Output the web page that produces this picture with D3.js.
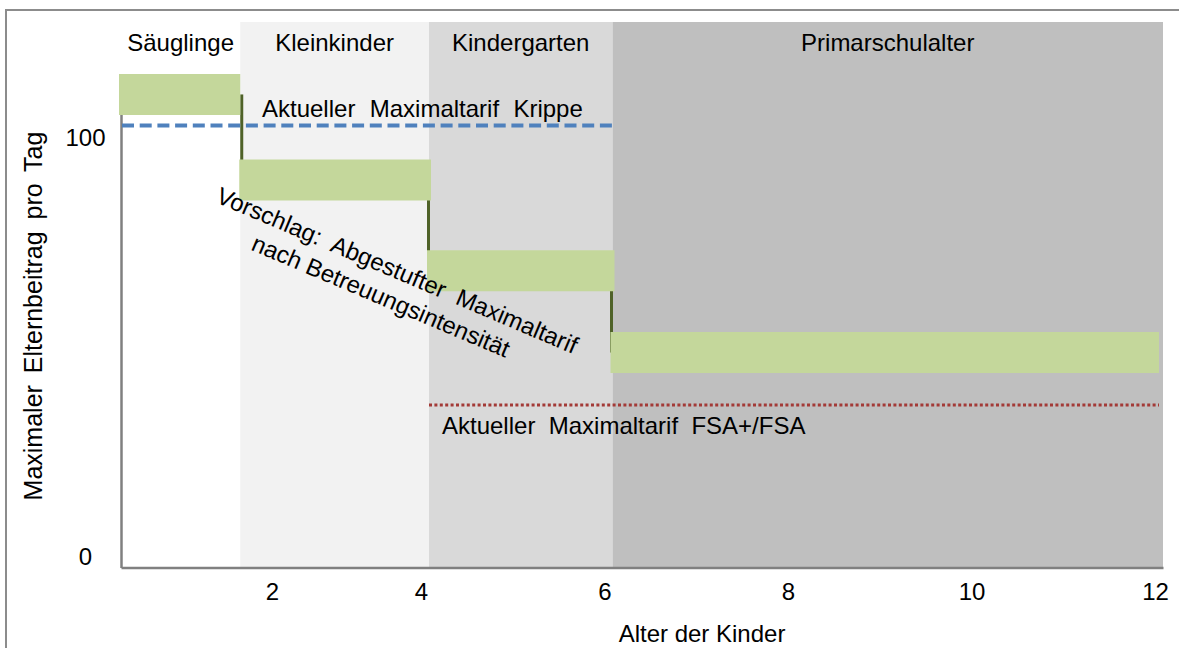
<!DOCTYPE html>
<html lang="de">
<head>
<meta charset="utf-8">
<script src="https://d3js.org/d3.v7.min.js"></script>
<style>
  html, body { margin: 0; padding: 0; background: #fff; overflow: hidden; }
  svg { display: block; }
  svg text { font-family: "Liberation Sans", Arial, sans-serif; fill: #000; white-space: pre; }
</style>
</head>
<body>
<div id="chart"></div>
<script>
// age groups (background bands)
const groupNames = ["Säuglinge", "Kleinkinder", "Kindergarten", "Primarschulalter"];
const groupFrom = [0, 1.5, 4, 6];
const groupTo = [1.5, 4, 6, 12];
const groupFill = ["#ffffff", "#f2f2f2", "#d9d9d9", "#bfbfbf"];

// proposed stepped maximum per group
const proposedMax = [112.9, 92.5, 70.8, 51.3];

// current maxima
const krippeMax = 105.5;
const krippeSpan = [0, 6];
const fsaMax = 38.8;
const fsaSpan = [4, 12];

const xTicks = [2, 4, 6, 8, 10, 12];
const yTicks = [0, 100];

const width = 1179, height = 648;
const bandTop = 22;

const svg = d3.select("#chart").append("svg")
    .attr("width", width)
    .attr("height", height);

// outer frame, runs past the right and bottom edge
svg.append("rect")
    .attr("x", 6).attr("y", 10)
    .attr("width", 1300).attr("height", 800)
    .attr("fill", "none")
    .attr("stroke", "#8c8c8c")
    .attr("stroke-width", 2);

// the age axis is not evenly spaced in the original
const x = d3.scaleLinear().domain([0, 2, 4, 12]).range([121, 280, 429, 1163]);
const y = d3.scaleLinear().domain([0, 110]).range([567.5, 106.6]);

// bands
svg.selectAll("rect.band")
    .data(groupNames)
    .join("rect")
    .attr("class", "band")
    .attr("x", (d, i) => x(groupFrom[i]))
    .attr("y", bandTop)
    .attr("width", (d, i) => x(groupTo[i]) - x(groupFrom[i]))
    .attr("height", y(0) - bandTop)
    .attr("fill", (d, i) => groupFill[i]);

svg.selectAll("text.band")
    .data(groupNames)
    .join("text")
    .attr("class", "band")
    .attr("x", (d, i) => (x(groupFrom[i]) + x(groupTo[i])) / 2)
    .attr("y", 51)
    .attr("text-anchor", "middle")
    .style("font-size", "24px")
    .text(d => d);

// axes
const xAxis = svg.append("g")
    .attr("transform", "translate(0," + y(0) + ")")
    .call(d3.axisBottom(x).tickValues(xTicks).tickSize(0).tickSizeOuter(0).tickFormat(d3.format("d")));
xAxis.select(".domain").attr("stroke", "#808080").attr("stroke-width", 2.5);
xAxis.selectAll("text")
    .attr("y", 32).attr("dy", 0).attr("dx", -8)
    .style("font-size", "24px")
    .style("font-family", "Liberation Sans, Arial, sans-serif");

const yAxis = svg.append("g")
    .attr("transform", "translate(" + x(0) + ",0)")
    .call(d3.axisLeft(y).tickValues(yTicks).tickSize(0).tickSizeOuter(0));
yAxis.select(".domain").attr("stroke", "#808080").attr("stroke-width", 2.5);
yAxis.selectAll("text")
    .attr("x", -35.5).attr("dy", "0.35em").attr("y", -11)
    .attr("text-anchor", "middle")
    .style("font-size", "24px")
    .style("font-family", "Liberation Sans, Arial, sans-serif");

svg.append("text")
    .attr("transform", "translate(42,316) rotate(-90)")
    .attr("text-anchor", "middle")
    .style("font-size", "25px")
    .style("word-spacing", "5px")
    .text("Maximaler Elternbeitrag pro Tag");

svg.append("text")
    .attr("x", 702).attr("y", 642)
    .attr("text-anchor", "middle")
    .style("font-size", "24px")
    .text("Alter der Kinder");

// vertical connectors of the step line, behind the thick segments
const shiftX = [1.5, -0.5, -1];
svg.selectAll("line.step")
    .data(proposedMax.slice(1))
    .join("line")
    .attr("class", "step")
    .attr("x1", (d, i) => x(groupFrom[i + 1]) + shiftX[i])
    .attr("x2", (d, i) => x(groupFrom[i + 1]) + shiftX[i])
    .attr("y1", (d, i) => y(proposedMax[i]))
    .attr("y2", d => y(d))
    .attr("stroke", "#4f6228")
    .attr("stroke-width", 3);

// thick segments, slightly overlapping as in the original
const padLeft = [2, 1, 2, 2];
const padRight = [0, 2, 2, -4];
svg.selectAll("line.prop")
    .data(proposedMax)
    .join("line")
    .attr("class", "prop")
    .attr("x1", (d, i) => x(groupFrom[i]) - padLeft[i])
    .attr("x2", (d, i) => x(groupTo[i]) + padRight[i])
    .attr("y1", d => y(d))
    .attr("y2", d => y(d))
    .attr("stroke", "#c4d79b")
    .attr("stroke-width", 41);

// current maximum Krippe
svg.append("line")
    .attr("x1", x(krippeSpan[0]) + 1).attr("x2", x(krippeSpan[1]))
    .attr("y1", y(krippeMax)).attr("y2", y(krippeMax))
    .attr("stroke", "#4f81bd")
    .attr("stroke-width", 4)
    .attr("stroke-dasharray", "12,5.7");

svg.append("text")
    .attr("x", 262).attr("y", 117)
    .style("font-size", "24px")
    .style("word-spacing", "0.5px")
    .text("Aktueller  Maximaltarif  Krippe");

// current maximum FSA
svg.append("line")
    .attr("x1", x(fsaSpan[0])).attr("x2", x(fsaSpan[1]) - 4)
    .attr("y1", y(fsaMax)).attr("y2", y(fsaMax))
    .attr("stroke", "#a33a37")
    .attr("stroke-width", 3)
    .attr("stroke-dasharray", "3,2.4");

svg.append("text")
    .attr("x", 442).attr("y", 434)
    .style("font-size", "24px")
    .text("Aktueller  Maximaltarif  FSA+/FSA");

// rotated note
const note = svg.append("text")
    .attr("transform", "translate(394,278) rotate(23)")
    .attr("text-anchor", "middle")
    .style("font-size", "24px");
note.append("tspan").attr("x", 0).attr("dy", 0).text("Vorschlag:  Abgestufter  Maximaltarif");
note.append("tspan").attr("x", -5).attr("dy", 30).text("nach Betreuungsintensität");
</script>
</body>
</html>
